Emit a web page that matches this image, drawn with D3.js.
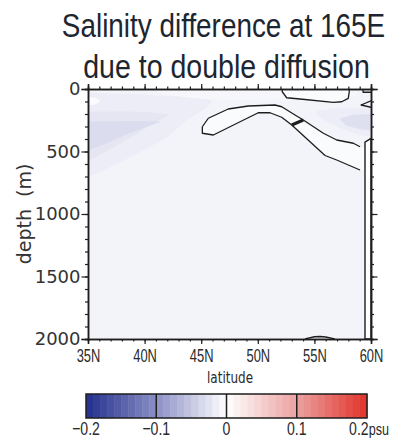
<!DOCTYPE html>
<html>
<head>
<meta charset="utf-8">
<script src="https://cdn.jsdelivr.net/npm/d3@7"></script>
<style>
  body { margin: 0; background: #fff; }
</style>
</head>
<body>
<svg id="chart" width="396" height="443"></svg>
<script>
// values: latitude (deg N), depth (m), salinity diff (psu)
const latTicks = [35, 40, 45, 50, 55, 60];
const latLabels = ["35N", "40N", "45N", "50N", "55N", "60N"];
const depthTicks = [0, 500, 1000, 1500, 2000];
const cbTicks = [-0.2, -0.1, 0, 0.1, 0.2];
const cbLabels = ["-0.2", "-0.1", "0", "0.1", "0.2"];
const cbStops = ["#232f8d", "#8b8fc5", "#ffffff", "#eba1a0", "#e0332a"];

const backgroundValue = -0.01;

// shaded patches [lat, depth]
const topBand = { value: -0.007, pts: [[41, 0], [41.5, 40], [44, 70], [48, 88], [52, 80], [56, 68], [58.6, 55], [59, 0]] };
const westFaint = { value: -0.016, pts: [[34, 30], [39, 40], [43, 60], [46, 90], [45.6, 140], [44.8, 190], [43.7, 250], [42, 385], [39.6, 505], [37.8, 590], [35, 705], [34, 705]] };
const westMid = { value: -0.022, pts: [[34, 182], [38, 178], [40.5, 185], [42.2, 205], [41.5, 240], [40, 320], [37.5, 455], [35, 575], [34, 575]] };
const westCore = { value: -0.031, pts: [[34, 262], [37, 258], [39.5, 255], [41.5, 262], [40.5, 290], [38.5, 360], [36.5, 440], [35, 490], [34, 490]] };
const westBlob = { value: -0.004, pts: [[34, 60], [35.7, 70], [36.1, 95], [35.6, 125], [34, 130]] };
const eastFaint = { value: -0.016, pts: [[55.2, 175], [57, 150], [59, 150], [61, 155], [61, 390], [59, 370], [57.5, 320], [56, 260], [55.2, 205]] };
const eastCore = { value: -0.028, pts: [[57.2, 235], [58.5, 205], [61, 198], [61, 340], [59, 322], [57.8, 292]] };

// zero contours [lat, depth]
const tongueUpper = [[45.1, 302], [45.63, 234], [47.39, 160], [49.16, 136], [51.52, 128], [52.11, 142], [53.29, 208], [54.02, 248], [55.79, 354], [56.97, 408], [58.44, 434], [59.03, 462]];
const tongueLower = [[45.1, 302], [45.1, 354], [46.07, 368], [50.04, 190], [51.08, 190], [52.11, 226], [53.0, 288], [55.94, 532], [56.97, 568], [59.03, 648]];
const tongueBar = [[53.0, 288], [54.02, 248]];
const surfaceLoop = [[52.16, 0], [52.16, 22], [52.55, 70], [53.73, 80], [56.67, 107], [57.41, 102], [57.99, 75], [58.08, 22], [58.08, 0]];
const edgeWedge = [[60, 94], [59.12, 128], [60, 146]];
const edgeBox = [[59.3, 0], [59.3, 26], [60, 26]];
const bottomBump = [[54.17, 2000], [55.0, 1982], [55.5, 1980], [56.0, 1984], [56.8, 2000]];
const landStrip = [[59.47, 2000], [59.47, 425], [60, 395], [60, 2000]];

const svg = d3.select("#chart");
const pLeft = 88, pRight = 371, pTop = 89, pBottom = 339;

const x = d3.scaleLinear().domain([35, 60]).range([pLeft, pRight]);
const y = d3.scaleLinear().domain([0, 2000]).range([pTop, pBottom]);
const color = d3.scaleLinear().domain(cbTicks).range(cbStops).interpolate(d3.interpolateRgb).clamp(true);

const ink = "#1e1e1e";

// title
const title = svg.append("g").attr("fill", "#1d2630")
  .style("font-family", "'Liberation Sans', Arial, sans-serif").style("font-size", "34px");
title.append("text").attr("transform", "translate(223.5,37) scale(0.82,1)")
  .attr("text-anchor", "middle").text("Salinity difference at 165E");
title.append("text").attr("transform", "translate(226.5,78) scale(0.84,1)")
  .attr("text-anchor", "middle").text("due to double diffusion");

// plot field
svg.append("clipPath").attr("id", "plotclip")
  .append("rect").attr("x", pLeft).attr("y", pTop).attr("width", pRight - pLeft).attr("height", pBottom - pTop);
const plot = svg.append("g").attr("clip-path", "url(#plotclip)");

plot.append("rect").attr("x", pLeft).attr("y", pTop).attr("width", pRight - pLeft).attr("height", pBottom - pTop)
  .attr("fill", color(backgroundValue));

const area = d3.line().x(d => x(d[0])).y(d => y(d[1])).curve(d3.curveLinearClosed);
const line = d3.line().x(d => x(d[0])).y(d => y(d[1]));

[topBand, westFaint, westMid, westCore, westBlob, eastFaint, eastCore].forEach(p => {
  plot.append("path").attr("d", area(p.pts)).attr("fill", color(p.value));
});

// interior of the zero contours
const tongueShape = tongueUpper.concat([[59.47, 470], [59.47, 650]], tongueLower.slice().reverse());
plot.append("path").attr("d", area(tongueShape)).attr("fill", color(-0.004));
plot.append("path").attr("d", area(surfaceLoop)).attr("fill", color(-0.004));

plot.append("path").attr("d", area(landStrip)).attr("fill", "#fff")
  .attr("stroke", ink).attr("stroke-width", 1.4);

[tongueUpper, tongueLower, surfaceLoop, edgeWedge, edgeBox, bottomBump].forEach(c => {
  plot.append("path").attr("d", line(c)).attr("fill", "none")
    .attr("stroke", ink).attr("stroke-width", 1.3).attr("stroke-linejoin", "round");
});
plot.append("path").attr("d", line(tongueBar)).attr("fill", "none")
  .attr("stroke", ink).attr("stroke-width", 3);

// axes
const minorLat = d3.range(35, 61, 1);
const minorDepth = d3.range(0, 2001, 100);

function styleAxis(g) {
  g.select(".domain").attr("stroke", ink).attr("stroke-width", 1.5);
  g.selectAll(".tick line").attr("stroke", ink).attr("stroke-width", 1.2);
}

svg.append("g").attr("transform", `translate(0,${pBottom})`)
  .call(d3.axisBottom(x).tickValues(minorLat).tickSize(2.5).tickFormat("")).call(styleAxis);
const xAxis = svg.append("g").attr("transform", `translate(0,${pBottom})`)
  .call(d3.axisBottom(x).tickValues(latTicks).tickSize(5).tickPadding(5)
    .tickFormat((d, i) => latLabels[i]))
  .call(styleAxis);
xAxis.selectAll("text").attr("fill", "#2a2a2a")
  .style("font-family", "'Liberation Sans', Arial, sans-serif").style("font-size", "19px")
  .attr("transform", "scale(0.68,1)");

svg.append("g").attr("transform", `translate(0,${pTop})`)
  .call(d3.axisTop(x).tickValues(minorLat).tickSize(2.5).tickFormat("")).call(styleAxis);
svg.append("g").attr("transform", `translate(0,${pTop})`)
  .call(d3.axisTop(x).tickValues(latTicks).tickSize(5).tickFormat("")).call(styleAxis);

svg.append("g").attr("transform", `translate(${pLeft},0)`)
  .call(d3.axisLeft(y).tickValues(minorDepth).tickSize(3).tickFormat("")).call(styleAxis);
const yAxis = svg.append("g").attr("transform", `translate(${pLeft},0)`)
  .call(d3.axisLeft(y).tickValues(depthTicks).tickSize(6.5).tickPadding(1).tickFormat(d3.format("d")))
  .call(styleAxis);
yAxis.selectAll("text").attr("fill", "#333")
  .style("font-family", "'DejaVu Sans', sans-serif").style("font-size", "18px");

svg.append("g").attr("transform", `translate(${pRight},0)`)
  .call(d3.axisRight(y).tickValues(minorDepth).tickSize(3).tickFormat("")).call(styleAxis);
svg.append("g").attr("transform", `translate(${pRight},0)`)
  .call(d3.axisRight(y).tickValues(depthTicks).tickSize(6.5).tickFormat("")).call(styleAxis);

// axis titles
svg.append("text").attr("transform", "translate(230,383) scale(0.8,1)")
  .attr("text-anchor", "middle").attr("fill", "#2a2a2a")
  .style("font-family", "'DejaVu Sans', sans-serif").style("font-size", "15px").text("latitude");
svg.append("text").attr("transform", "translate(31,214) rotate(-90)")
  .attr("text-anchor", "middle").attr("fill", "#333")
  .style("font-family", "'DejaVu Sans', sans-serif").style("font-size", "19px")
  .style("white-space", "pre").text("depth  (m)");

// colour bar
const cb = d3.scaleLinear().domain([-0.2, 0.2]).range([86, 367]);
const cbTop = 394, cbH = 24;
const steps = d3.range(-0.2, 0.2 - 1e-9, 0.01);
svg.append("g").selectAll("rect").data(steps).join("rect")
  .attr("x", d => cb(d)).attr("y", cbTop)
  .attr("width", d => cb(d + 0.01) - cb(d) + 0.5).attr("height", cbH)
  .attr("fill", d => color(d + 0.005));
svg.append("g").selectAll("line").data(cbTicks.slice(1, -1)).join("line")
  .attr("x1", d => cb(d)).attr("x2", d => cb(d)).attr("y1", cbTop).attr("y2", cbTop + cbH)
  .attr("stroke", ink).attr("stroke-width", 1.5);
svg.append("rect").attr("x", cb(-0.2)).attr("y", cbTop).attr("width", cb(0.2) - cb(-0.2)).attr("height", cbH)
  .attr("fill", "none").attr("stroke", ink).attr("stroke-width", 1.5);

const cbText = svg.append("g").attr("fill", "#2a2a2a")
  .style("font-family", "'Liberation Sans', Arial, sans-serif").style("font-size", "19px");
cbText.selectAll("text").data(cbTicks).join("text")
  .attr("transform", (d, i) => `translate(${cb(d) + (i === 4 ? 2 : 0)},435) scale(0.74,1)`)
  .attr("text-anchor", "middle")
  .each(function (d, i) {
    const t = d3.select(this);
    t.append("tspan").text(cbLabels[i].replace("-", "\u2212"));
    if (i === 4) t.append("tspan").style("font-size", "17px").text("psu");
  });
</script>
</body>
</html>
